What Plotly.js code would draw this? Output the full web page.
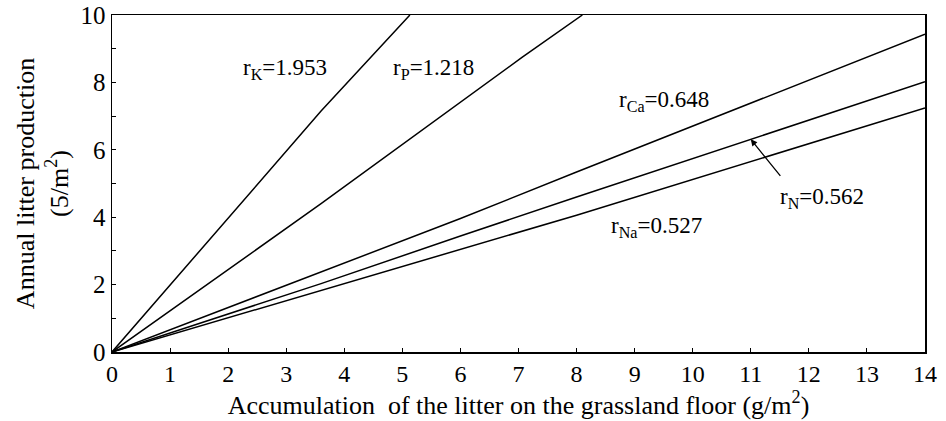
<!DOCTYPE html>
<html>
<head>
<meta charset="utf-8">
<script src="https://cdn.plot.ly/plotly-3.0.1.min.js"></script>
<style>html,body{margin:0;padding:0;background:#fff;}#chart{width:946px;height:421px;}</style>
</head>
<body>
<div id="chart"></div>
<script>
// Values
const kX = [0, 3.6, 5.13];
const kY = [0, 7.15, 10];
const pX = [0, 3.6, 7.06, 8.1];
const pY = [0, 4.4, 8.74, 10];
const lowX = [0, 3.6, 6, 8, 14];
const caY = [0, 2.38, 3.96, 5.34, 9.43];
const nY  = [0, 2.03, 3.44, 4.6, 8.02];
const naY = [0, 1.82, 3.05, 4.06, 7.24];

const labels = ["r<sub>K</sub>=1.953", "r<sub>P</sub>=1.218", "r<sub>Ca</sub>=0.648", "r<sub>N</sub>=0.562", "r<sub>Na</sub>=0.527"];
const labelX = [2.98, 5.54, 9.5, 12.22, 9.38];
const labelY = [8.4, 8.4, 7.44, 4.58, 3.71];

const xTicks = [0,1,2,3,4,5,6,7,8,9,10,11,12,13,14];
const yTicks = [0,2,4,6,8,10];

const font = "'Liberation Serif', 'Times New Roman', 'DejaVu Serif', serif";
const line = {color: "#000", width: 1.5};

const traces = [
  {x: kX, y: kY, mode: "lines", line: line, name: "K"},
  {x: pX, y: pY, mode: "lines", line: line, name: "P"},
  {x: lowX, y: caY, mode: "lines", line: line, name: "Ca"},
  {x: lowX, y: nY, mode: "lines", line: line, name: "N"},
  {x: lowX, y: naY, mode: "lines", line: line, name: "Na"}
];

const annotations = labels.map((t, i) => ({
  x: labelX[i], y: labelY[i], xref: "x", yref: "y", text: t, showarrow: false,
  font: {family: font, size: 23, color: "#000"}
}));
annotations.push({
  x: 11.0, y: 6.31, ax: 11.53, ay: 5.18, axref: "x", ayref: "y", xref: "x", yref: "y",
  text: "", showarrow: true, arrowhead: 2, arrowsize: 1, arrowwidth: 1.3, arrowcolor: "#000"
});

const layout = {
  width: 946, height: 421,
  margin: {l: 112, r: 21, t: 15, b: 69},
  paper_bgcolor: "#fff", plot_bgcolor: "#fff",
  showlegend: false,
  font: {family: font, color: "#000", size: 24},
  xaxis: {
    range: [0, 14], tickmode: "array", tickvals: xTicks, ticktext: xTicks.map(String),
    ticks: "inside", ticklen: 4, tickcolor: "#000",
    showline: true, mirror: true, linecolor: "#000", linewidth: 1.5,
    showgrid: false, zeroline: false,
    tickfont: {family: font, size: 24, color: "#000"},
    title: {text: "Accumulation  of the litter on the grassland floor (g/m<sup>2</sup>)", font: {family: font, size: 26, color: "#000"}, standoff: 0}
  },
  yaxis: {
    range: [0, 10], tickmode: "array", tickvals: yTicks, ticktext: yTicks.map(String),
    ticks: "inside", ticklen: 4, tickcolor: "#000",
    minor: {dtick: 1, ticks: "inside", ticklen: 4, tickcolor: "#000"},
    showline: true, mirror: true, linecolor: "#000", linewidth: 1.5,
    showgrid: false, zeroline: false,
    tickfont: {family: font, size: 25, color: "#000"},
    title: {text: "Annual litter production<br>(5/m<sup>2</sup>)", font: {family: font, size: 26, color: "#000"}, standoff: 4}
  },
  annotations: annotations
};

Plotly.newPlot("chart", traces, layout, {displayModeBar: false, staticPlot: true});
</script>
</body>
</html>
